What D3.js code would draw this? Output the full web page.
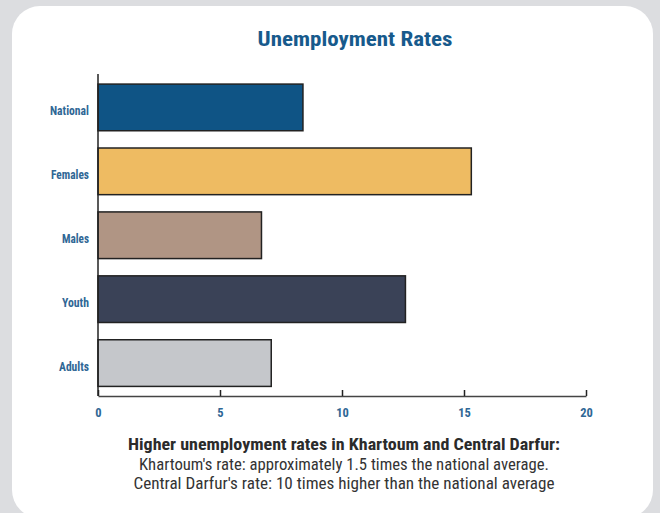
<!DOCTYPE html>
<html><head><meta charset="utf-8">
<script src="https://cdn.jsdelivr.net/npm/d3@7"></script>
<style>
html,body{margin:0;padding:0;background:#dcdde0;}
svg{display:block;}
text{font-family:"Liberation Sans Narrow","Roboto Condensed","Arial Narrow",Roboto,sans-serif;}
</style></head>
<body>
<svg id="chart" width="660" height="513"></svg>
<script>
const categories = ["National","Females","Males","Youth","Adults"];
const values = [8.4, 15.3, 6.7, 12.6, 7.1];
const colors = ["#0f5485","#eebb62","#b09584","#3a4257","#c5c7cb"];
const xTicks = [0,5,10,15,20];
const title = "Unemployment Rates";
const noteLines = [
  "Higher unemployment rates in Khartoum and Central Darfur:",
  "Khartoum's rate: approximately 1.5 times the national average.",
  "Central Darfur's rate: 10 times higher than the national average"
];
const labelWidths = [39, 38, 27, 27, 30];

const svg = d3.select("#chart");
svg.append("rect").attr("x",12).attr("y",6).attr("width",641).attr("height",512)
  .attr("rx",28).attr("ry",28).attr("fill","#ffffff");

svg.append("text").attr("x",355).attr("y",46).attr("text-anchor","middle")
  .attr("font-size",21).attr("font-weight","bold").attr("fill","#175a8c")
  .attr("textLength",195).attr("lengthAdjust","spacingAndGlyphs").text(title);

const x = d3.scaleLinear().domain([0,20]).range([98,586]);
const y = d3.scaleBand().domain(categories).range([74.5,396]).paddingInner(0.27).paddingOuter(0.15);

const g = svg.append("g");
g.selectAll("rect.bar").data(categories).join("rect").attr("class","bar")
  .attr("x",x(0)).attr("y",d=>y(d)).attr("width",(d,i)=>x(values[i])-x(0))
  .attr("height",y.bandwidth()).attr("fill",(d,i)=>colors[i])
  .attr("stroke","#222").attr("stroke-width",1.5);

const font = '"Liberation Sans Narrow","Roboto Condensed",Roboto,sans-serif';
// y axis
const ya = svg.append("g").attr("transform",`translate(${x(0)},0)`)
  .call(d3.axisLeft(y).tickSize(0).tickPadding(9));
ya.select(".domain").attr("stroke","#222").attr("stroke-width",1.5).attr("d","M0,74V396");
ya.selectAll("text").attr("font-size",12.5).attr("font-weight","bold").attr("fill","#2f6795")
  .attr("font-family",font).attr("dy","0.62em")
  .attr("textLength",(d,i)=>labelWidths[i]).attr("lengthAdjust","spacingAndGlyphs");

// x axis
const xa = svg.append("g").attr("transform","translate(0,396)")
  .call(d3.axisTop(x).tickValues(xTicks).tickSize(6).tickSizeOuter(0));
xa.select(".domain").attr("stroke","#444").attr("stroke-width",1.5);
xa.selectAll(".tick line").attr("stroke","#222").attr("stroke-width",1.5);
xa.selectAll("text").attr("y",21).attr("dy",0).attr("font-size",12.5).attr("font-weight","bold").attr("fill","#2f6795")
  .attr("font-family",font);

// note
const noteWidths = [432, 410, 421];
noteLines.forEach((t,i)=>{
  svg.append("text").attr("x",344).attr("y",450+i*19.5).attr("text-anchor","middle")
    .attr("font-size",16).attr("font-weight", i===0?"bold":"normal")
    .attr("fill", i===0?"#2b2b2b":"#333")
    .attr("textLength",noteWidths[i]).attr("lengthAdjust","spacingAndGlyphs").text(t);
});
</script>
</body></html>
